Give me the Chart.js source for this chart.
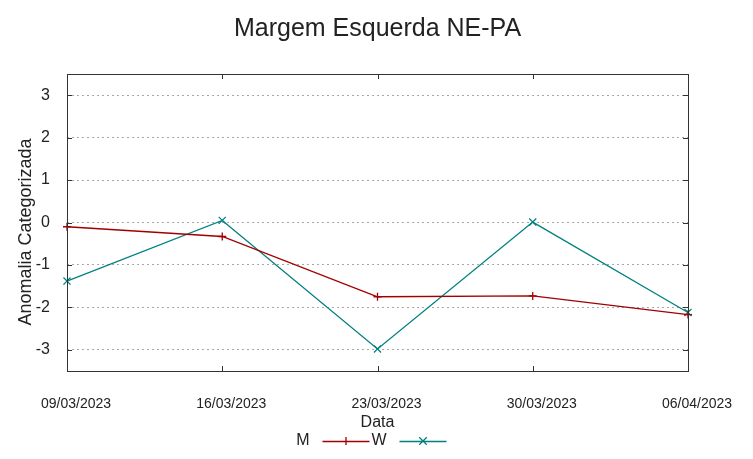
<!DOCTYPE html>
<html>
<head>
<meta charset="utf-8">
<script src="https://cdn.jsdelivr.net/npm/chart.js@4/dist/chart.umd.min.js"></script>
<style>
  html, body { margin: 0; padding: 0; background: #fff; }
  canvas { display: block; }
</style>
</head>
<body>
<canvas id="chart" width="753" height="459" style="width:753px;height:459px"></canvas>
<script>
const dates = ["09/03/2023", "16/03/2023", "23/03/2023", "30/03/2023", "06/04/2023"];
const seriesM = [-0.10, -0.33, -1.75, -1.73, -2.17];
const seriesW = [-1.38, 0.05, -2.98, 0.01, -2.12];
const yTicks = [-3, -2, -1, 0, 1, 2, 3];

const FONT = "'Liberation Sans', Arial, sans-serif";
const TEXT = "#222";

// gnuplot-style box, inward ticks, titles and legend
const gnuplotDecor = {
  id: "gnuplotDecor",
  afterDraw(chart) {
    const { ctx, chartArea: a, scales } = chart;
    ctx.save();

    // frame
    ctx.strokeStyle = "#333";
    ctx.lineWidth = 1;
    ctx.strokeRect(a.left + 0.5, a.top + 0.5, a.right - a.left, a.bottom - a.top);

    // inward tick marks
    ctx.beginPath();
    yTicks.forEach(v => {
      const y = Math.round(scales.y.getPixelForValue(v)) + 0.5;
      ctx.moveTo(a.left, y); ctx.lineTo(a.left + 5, y);
      ctx.moveTo(a.right, y); ctx.lineTo(a.right - 5, y);
    });
    dates.forEach((d, i) => {
      const x = Math.round(scales.x.getPixelForValue(i)) + 0.5;
      ctx.moveTo(x, a.bottom); ctx.lineTo(x, a.bottom - 5);
      ctx.moveTo(x, a.top); ctx.lineTo(x, a.top + 5);
    });
    ctx.stroke();

    const cx = (a.left + a.right) / 2;

    // main title
    ctx.fillStyle = TEXT;
    ctx.font = "25px " + FONT;
    ctx.textAlign = "center";
    ctx.textBaseline = "middle";
    ctx.fillText("Margem Esquerda NE-PA", cx, 29);

    // x title
    ctx.font = "16px " + FONT;
    ctx.fillText("Data", cx, 423);

    // y title
    ctx.save();
    ctx.translate(26, 232);
    ctx.rotate(-Math.PI / 2);
    ctx.font = "18px " + FONT;
    ctx.fillText("Anomalia Categorizada", 0, 0);
    ctx.restore();

    // legend: text, then sample line with marker
    const ly = 441;
    let tx = cx - 68;
    chart.data.datasets.forEach(ds => {
      ctx.fillStyle = TEXT;
      ctx.font = "16px " + FONT;
      ctx.textAlign = "right";
      ctx.fillText(ds.label, tx, ly);
      const x0 = tx + 13, x1 = tx + 60, xm = (x0 + x1) / 2;
      ctx.strokeStyle = ds.borderColor;
      ctx.lineWidth = ds.borderWidth;
      ctx.beginPath();
      ctx.moveTo(x0, ly + 0.5); ctx.lineTo(x1, ly + 0.5);
      const r = ds.pointRadius;
      if (ds.pointStyle === "cross") {
        ctx.moveTo(xm, ly - r); ctx.lineTo(xm, ly + r);
      } else {
        const d = r * 0.75;
        ctx.moveTo(xm - d, ly - d); ctx.lineTo(xm + d, ly + d);
        ctx.moveTo(xm - d, ly + d); ctx.lineTo(xm + d, ly - d);
      }
      ctx.stroke();
      tx += 77;
    });

    ctx.restore();
  }
};

new Chart(document.getElementById("chart"), {
  type: "line",
  data: {
    labels: dates,
    datasets: [
      {
        label: "M",
        data: seriesM,
        borderColor: "#a00000",
        backgroundColor: "#a00000",
        borderWidth: 1.3,
        pointStyle: "cross",
        pointRadius: 4,
        pointBorderWidth: 1.3,
        tension: 0,
        fill: false,
        clip: false
      },
      {
        label: "W",
        data: seriesW,
        borderColor: "#008080",
        backgroundColor: "#008080",
        borderWidth: 1.3,
        pointStyle: "crossRot",
        pointRadius: 5,
        pointBorderWidth: 1.3,
        tension: 0,
        fill: false,
        clip: false
      }
    ]
  },
  options: {
    responsive: false,
    animation: false,
    events: [],
    layout: { padding: { left: 0, top: 74, right: 65, bottom: 0 } },
    plugins: {
      legend: { display: false },
      title: { display: false },
      tooltip: { enabled: false }
    },
    scales: {
      x: {
        type: "category",
        offset: false,
        afterFit(scale) { scale.height = 88; },
        grid: { display: false, drawTicks: false },
        border: { display: false },
        ticks: {
          color: TEXT,
          font: { family: FONT, size: 14 },
          padding: 25,
          labelOffset: 9,
          maxRotation: 0,
          autoSkip: false
        }
      },
      y: {
        min: -3.5,
        max: 3.5,
        afterFit(scale) { scale.width = 67; },
        afterBuildTicks(scale) { scale.ticks = yTicks.map(v => ({ value: v })); },
        grid: {
          color: "#a8a8a8",
          lineWidth: 1,
          drawTicks: false
        },
        border: { display: false, dash: [2, 3] },
        ticks: {
          color: TEXT,
          font: { family: FONT, size: 16 },
          padding: 17
        }
      }
    }
  },
  plugins: [gnuplotDecor]
});
</script>
</body>
</html>
